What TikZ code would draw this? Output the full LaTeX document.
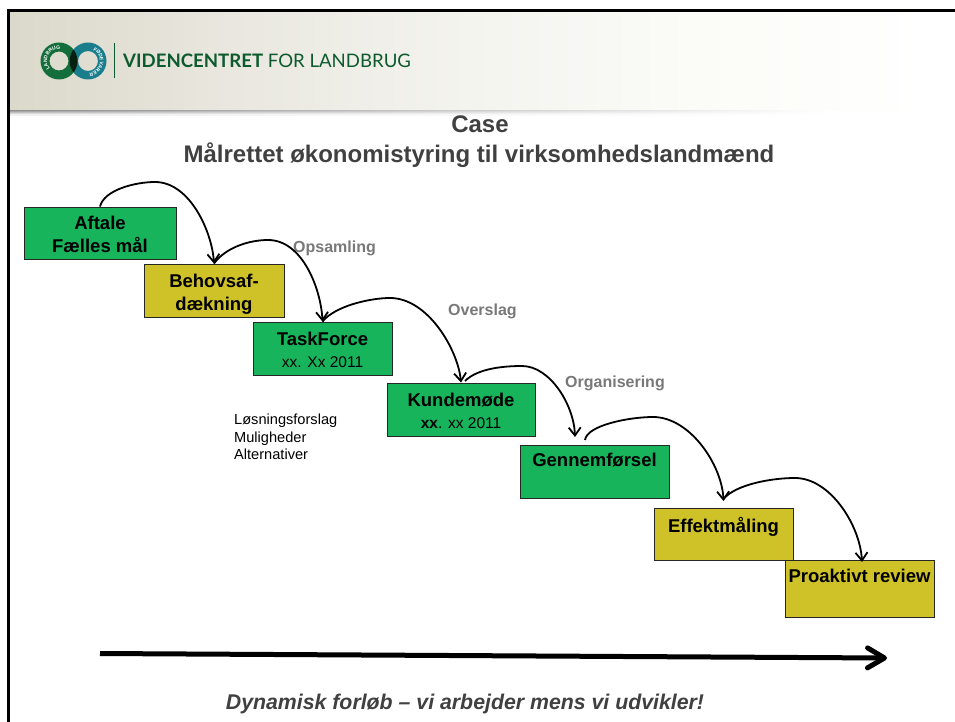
\documentclass[tikz,border=0pt]{standalone}
\usepackage{fontspec}
\setmainfont{Liberation Sans}
\newfontfamily\logofont{Lato}
\usetikzlibrary{arrows.meta,decorations.text}
\definecolor{boxgreen}{RGB}{23,180,92}
\definecolor{boxyellow}{RGB}{207,194,40}
\definecolor{titlegrey}{RGB}{64,64,64}
\definecolor{notegrey}{RGB}{120,120,120}
\definecolor{logogreen}{RGB}{12,90,45}
\definecolor{ringgreen}{RGB}{20,110,60}
\definecolor{ringteal}{RGB}{25,125,140}
\definecolor{banda}{RGB}{219,217,202}
\definecolor{bandb}{RGB}{233,231,223}
\definecolor{bandc}{RGB}{244,244,239}
\definecolor{bandd}{RGB}{251,251,247}
\pgfdeclarehorizontalshading{bandshade}{100bp}{color(0bp)=(banda);color(25bp)=(banda);color(37bp)=(bandb);color(50bp)=(bandc);color(62bp)=(bandd);color(75bp)=(white);color(100bp)=(white)}
\tikzset{
  stepbox/.style={draw=black!85!white,line width=0.9pt,inner sep=0pt,align=center,font=\fontsize{18.5}{23}\selectfont\bfseries,text=black},
  greenbox/.style={stepbox,fill=boxgreen},
  yellowbox/.style={stepbox,fill=boxyellow},
  hop/.style={line width=1.8pt,black,-{Straight Barb[length=8pt,width=12pt]}},
  phase/.style={text=notegrey,font=\fontsize{16}{18}\selectfont\bfseries,anchor=base west,inner sep=0pt},
  ringtext/.style={decoration={text along path,text color=white,text align=center,text={|\fontsize{5}{5}\selectfont\bfseries|#1}},decorate}
}
\begin{document}
\begin{tikzpicture}[x=1pt,y=-1pt]
\useasboundingbox (0,0) rectangle (955,722);
% header band
\fill[shading=bandshade] (10,12) rectangle (930,111);
\foreach \yy/\gg in {111/45,112/35,113/25,114/16,115/6}{
  \fill[left color=black!\gg,middle color=black!\gg!white!60!white,right color=white] (10,\yy) rectangle (830,\yy+1);
}
% frame
\draw[line width=3pt,black] (8.5,722) -- (8.5,10.5) -- (955,10.5);
% logo
\fill[ringgreen,even odd rule] (59,61) circle[radius=18.5] (59,61) circle[radius=9.5];
\fill[ringteal,even odd rule] (88,61) circle[radius=18.5] (88,61) circle[radius=10];
\begin{scope}
  \clip (59,61) circle[radius=18.5];
  \fill[black!70!ringgreen,even odd rule] (88,61) circle[radius=18.5] (88,61) circle[radius=10];
\end{scope}
\path[ringtext=LANDBRUG] (59,61) ++(95:12) arc[start angle=95,end angle=320,radius=12];
\path[ringtext=FØDEVARER] (88,61) ++(-110:12) arc[start angle=-110,end angle=130,radius=12];
\draw[logogreen,line width=0.7pt] (114,43) -- (114,78);
\node[anchor=base west,inner sep=0pt,text=logogreen,font=\logofont\fontsize{18.6}{20}\selectfont] (brand) at (123,67.7) {\textbf{VIDENCENTRET} FOR LANDBRUG};
% titles
\node[anchor=base,inner sep=0pt,text=titlegrey,font=\fontsize{24}{26}\selectfont\bfseries] (case) at (480,133) {Case};
\node[anchor=base,inner sep=0pt,text=titlegrey,font=\fontsize{24}{26}\selectfont\bfseries] (title) at (479,163) {Målrettet økonomistyring til virksomhedslandmænd};
% boxes
\node[greenbox,minimum width=152pt,minimum height=52pt] (aftale) at (100,233) {\rule{0pt}{15.5pt}Aftale\\Fælles mål};
\node[yellowbox,minimum width=140pt,minimum height=53pt] (behov) at (214,290.5) {\rule{0pt}{21.5pt}Behovsaf-\\dækning};
\node[greenbox,minimum width=139pt,minimum height=53pt] (task) at (322.5,348.5) {\rule{0pt}{15.5pt}TaskForce\\[-1pt]{\fontsize{15.5}{18}\selectfont\mdseries xx. Xx 2011}};
\node[greenbox,minimum width=148pt,minimum height=53pt] (kunde) at (461,409.5) {\rule{0pt}{15.5pt}Kundemøde\\[-1pt]{\fontsize{15.5}{18}\selectfont\textbf{xx}\mdseries. xx 2011}};
\node[greenbox,minimum width=149pt,minimum height=53pt] (gennem) at (594.5,471.5) {Gennemførsel\\[-6pt]\strut};
\node[yellowbox,minimum width=139pt,minimum height=52pt] (effekt) at (723.5,534) {Effektmåling\\[-12pt]\strut};
\node[yellowbox,minimum width=149pt,minimum height=57pt] (proakt) at (859.5,588.5) {Proaktivt review\\[-4pt]\strut};
% phase labels
\node[phase] (ops) at (293,252) {Opsamling};
\node[phase] (over) at (448,315) {Overslag};
\node[phase] (org) at (565,387) {Organisering};
% note
\node[anchor=north west,inner sep=0pt,align=left,font=\fontsize{14.6}{17.5}\selectfont] (note) at (234,414) {Løsningsforslag\\Muligheder\\Alternativer};
% free ends
\coordinate (k1) at (465,381);
\coordinate (g0) at (575,437);
\coordinate (g1) at (585,440);
\coordinate (e0) at (723.5,501);
\coordinate (e1) at (723.5,499);
\coordinate (p0) at (862,562);
\coordinate (tl0) at (100,653.5);
\coordinate (tl1) at (887,658);
% hops
\draw[hop] (aftale.north) .. controls (104,190) and (135,182) .. (155,182) .. controls (190,182) and (212,232) .. (behov.north);
\draw[hop] (behov.north) .. controls (226,247) and (250,240) .. (268,240) .. controls (303,240) and (321,290) .. (task.north);
\draw[hop] (task.north) .. controls (335,306) and (370,298) .. (390,298) .. controls (428,298) and (458,350) .. (kunde.north);
\draw[hop] (k1) .. controls (478,368) and (505,366) .. (522,366) .. controls (550,366) and (574,405) .. (g0);
\draw[hop] (g1) .. controls (587,425) and (630,417) .. (653,417) .. controls (690,417) and (722,465) .. (e0);
\draw[hop] (e1) .. controls (735,485) and (770,478) .. (795,478) .. controls (830,478) and (860,525) .. (p0);
% timeline
\draw[line width=5pt,-{Straight Barb[length=17pt,width=20pt,round]}] (tl0) -- (tl1);
\node[anchor=base,inner sep=0pt,text=titlegrey,font=\fontsize{21.3}{24}\selectfont\bfseries\itshape] (motto) at (465,709) {Dynamisk forløb – vi arbejder mens vi udvikler!};
\end{tikzpicture}
\end{document}
